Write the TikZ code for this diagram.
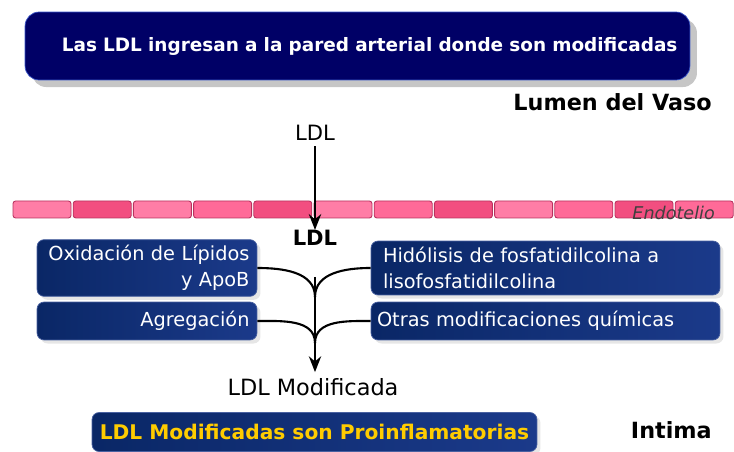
\documentclass[tikz,border=0pt]{standalone}
\usepackage{fontspec}
\setmainfont{DejaVu Sans}
\usetikzlibrary{arrows.meta,shadows}

\definecolor{navy}{HTML}{000066}
\definecolor{navyedge}{HTML}{3A55C8}
\definecolor{boxleft}{HTML}{0A2766}
\definecolor{boxright}{HTML}{1B3A8A}
\definecolor{pinklight}{HTML}{FF7DA6}
\definecolor{pinkmid}{HTML}{FF6A98}
\definecolor{pinkdark}{HTML}{F24E80}
\definecolor{pinkedge}{HTML}{B8325E}
\definecolor{gold}{HTML}{FFCC00}

\tikzset{
  titlebox/.style={rounded corners=8pt, fill=navy, draw=navyedge,
    drop shadow={shadow xshift=4pt, shadow yshift=-4pt, opacity=0.45, fill=gray},
    text=white, font=\bfseries\fontsize{10.5}{12}\selectfont},
  modbox/.style={rounded corners=4pt, left color=boxleft, right color=boxright,
    draw=boxright!80!white,
    drop shadow={shadow xshift=2pt, shadow yshift=-2pt, opacity=0.2},
    text=white, font=\fontsize{11}{14.5}\selectfont},
  cell/.style={draw=pinkedge, line width=0.5pt, rounded corners=1.5pt},
  link/.style={line width=1.2pt, black},
  tip/.style={-{Stealth[length=9pt,width=7pt]}},
  zone/.style={font=\bfseries\fontsize{12.7}{14}\selectfont}
}

\begin{document}
\begin{tikzpicture}[x=0.02cm,y=-0.02cm]
  \useasboundingbox (0,0) rectangle (734,452);

  % Title
  \node[titlebox, minimum width=13.3cm, minimum height=1.36cm,
    inner xsep=0.25cm, text width=12.8cm, align=right] (title) at (357.5,46)
    {Las LDL ingresan a la pared arterial donde son modificadas};

  \node[zone, anchor=east] (lumen) at (718,102) {Lumen del Vaso};

  % Endothelium
  \foreach \i/\c in {0/pinklight,1/pinkdark,2/pinklight,3/pinkmid,4/pinkdark,5/pinklight,
                     6/pinkmid,7/pinkdark,8/pinklight,9/pinkmid,10/pinkdark,11/pinkmid}
    \draw[cell, fill=\c] ({13+60.2*\i},201) rectangle ++(58,17);
  \node[anchor=east, text=black!75, font=\itshape\fontsize{10}{12}\selectfont]
    (endo) at (721,213) {Endotelio};

  % LDL entering
  \node[font=\fontsize{12}{14}\selectfont, inner sep=0pt] (ldltop) at (315,133) {LDL};
  \node[font=\bfseries\fontsize{12}{14}\selectfont, inner sep=0pt] (ldlin) at (315,238) {LDL};
  \draw[link, tip, shorten <=3pt] (ldltop) -- (ldlin);

  % Modifications
  \node[modbox, minimum width=4.4cm, minimum height=1.08cm, inner xsep=0.15cm,
    text width=4.1cm, align=right] (oxid) at (147,268)
    {Oxidación de Lípidos\\y ApoB};
  \node[modbox, minimum width=6.98cm, minimum height=1.08cm, inner xsep=0.24cm,
    text width=6.5cm, align=left] (hidro) at (545.5,268)
    {Hidólisis de fosfatidilcolina a\\lisofosfatidilcolina};
  \node[modbox, minimum width=4.4cm, minimum height=0.76cm, inner xsep=0.15cm,
    text width=4.1cm, align=right] (agreg) at (147,321) {Agregación};
  \node[modbox, minimum width=6.98cm, minimum height=0.76cm, inner xsep=0.12cm,
    text width=6.74cm, align=left] (otras) at (545.5,321)
    {Otras modificaciones químicas};

  \node[font=\fontsize{12.75}{14}\selectfont] (ldlmod) at (313,387) {LDL Modificada};

  % Merging paths
  \coordinate (stem) at (315,277);
  \coordinate (join1) at (315,297);
  \coordinate (join2) at (315,343);
  \draw[link] (oxid.east) to[out=0,in=90] (join1);
  \draw[link] (hidro.west) to[out=180,in=90] (join1);
  \draw[link] (agreg.east) to[out=0,in=90] (join2);
  \draw[link] (otras.west) to[out=180,in=90] (join2);
  \draw[link, tip] (stem) -- (stem |- ldlmod.north);

  % Result
  \node[modbox, minimum width=8.9cm, minimum height=0.78cm, text=gold,
    font=\bfseries\fontsize{11.5}{12}\selectfont] (proinf) at (314.5,432)
    {LDL Modificadas son Proinflamatorias};

  \node[zone, anchor=east] (intima) at (718,430) {Intima};
\end{tikzpicture}
\end{document}
